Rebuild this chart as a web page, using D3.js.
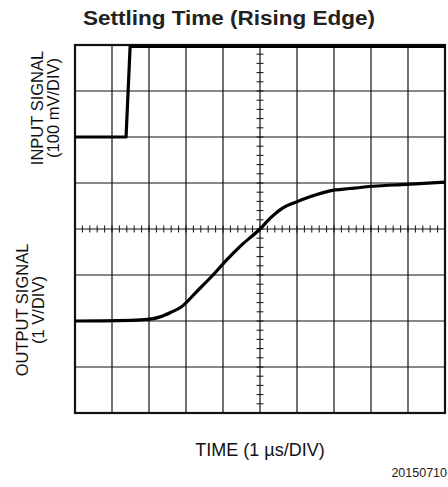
<html>
<script src="https://d3js.org/d3.v7.min.js"></script>
<body style="margin:0;background:#fff;">
<svg id="chart" width="448" height="487"></svg>
<script>
    // scope trace, in divisions (x: 0..10, y: -4..4)
    let inputX = [0, 1.38, 1.49, 10];
    let inputY = [2, 2, 3.97, 3.97];

    let outputX = [0, 1.67, 2.03, 2.30, 2.57, 2.88, 3.29, 3.73, 4.10, 4.50, 5.0, 5.27, 5.62, 5.99, 6.35, 6.89, 7.43, 8.05, 8.96, 10];
    let outputY = [-2.0, -1.98, -1.96, -1.91, -1.82, -1.69, -1.36, -1.0, -0.67, -0.35, 0, 0.23, 0.46, 0.59, 0.70, 0.83, 0.88, 0.93, 0.97, 1.02];

    let xDivs = d3.range(0, 11);
    let yDivs = d3.range(-4, 5);
    let xMinor = d3.range(0, 10.01, 0.2);
    let yMinor = d3.range(-4, 4.01, 0.2);

    let svg = d3.select('#chart');
    let font = '"Liberation Sans", Arial, Helvetica, sans-serif';

    let x = d3.scaleLinear().domain([0, 10]).range([75, 445]);
    let y = d3.scaleLinear().domain([-4, 4]).range([413, 45]);

    // grid lines
    svg.append('g').selectAll('line.v').data(xDivs).join('line')
        .attr('x1', d => x(d)).attr('x2', d => x(d))
        .attr('y1', y(-4)).attr('y2', y(4))
        .attr('stroke', '#111').attr('stroke-width', 1.2);
    svg.append('g').selectAll('line.h').data(yDivs).join('line')
        .attr('x1', x(0)).attr('x2', x(10))
        .attr('y1', d => y(d)).attr('y2', d => y(d))
        .attr('stroke', '#111').attr('stroke-width', 1.2);

    // minor ticks on the centre axes
    svg.append('g').selectAll('line').data(xMinor).join('line')
        .attr('x1', d => x(d)).attr('x2', d => x(d))
        .attr('y1', y(0) - 3.5).attr('y2', y(0) + 3.5)
        .attr('stroke', '#111').attr('stroke-width', 1);
    svg.append('g').selectAll('line').data(yMinor).join('line')
        .attr('x1', x(5) - 3.5).attr('x2', x(5) + 3.5)
        .attr('y1', d => y(d)).attr('y2', d => y(d))
        .attr('stroke', '#111').attr('stroke-width', 1);

    // frame
    svg.append('rect')
        .attr('x', x(0)).attr('y', y(4))
        .attr('width', x(10) - x(0)).attr('height', y(-4) - y(4))
        .attr('fill', 'none').attr('stroke', '#111').attr('stroke-width', 2.2);

    let line = d3.line().x(d => x(d[0])).y(d => y(d[1]));

    svg.append('path')
        .datum(d3.zip(inputX, inputY))
        .attr('d', line)
        .attr('fill', 'none').attr('stroke', '#000').attr('stroke-width', 3.2)
        .attr('stroke-linejoin', 'round');

    svg.append('path')
        .datum(d3.zip(outputX, outputY))
        .attr('d', d3.line().curve(d3.curveMonotoneX).x(d => x(d[0])).y(d => y(d[1])))
        .attr('fill', 'none').attr('stroke', '#000').attr('stroke-width', 3.2)
        .attr('stroke-linejoin', 'round');

    // texts
    svg.append('text')
        .text('Settling Time (Rising Edge)')
        .attr('x', 229).attr('y', 25)
        .attr('text-anchor', 'middle')
        .attr('textLength', 292).attr('lengthAdjust', 'spacingAndGlyphs')
        .style('font-family', font).style('font-weight', 'bold').style('font-size', '20px')
        .attr('fill', '#222');

    svg.append('text')
        .text('TIME (1 \u00b5s/DIV)')
        .attr('x', 260).attr('y', 456)
        .attr('text-anchor', 'middle')
        .style('font-family', font).style('font-size', '18px')
        .attr('fill', '#111');

    svg.append('text')
        .text('20150710')
        .attr('x', 447).attr('y', 477)
        .attr('text-anchor', 'end')
        .style('font-family', font).style('font-size', '12.5px')
        .attr('fill', '#222');

    let yLabels = [
        {t: 'INPUT SIGNAL', cx: 37, cy: 108},
        {t: '(100 mV/DIV)', cx: 53, cy: 108},
        {t: 'OUTPUT SIGNAL', cx: 22, cy: 310},
        {t: '(1 V/DIV)', cx: 38, cy: 310}
    ];
    svg.append('g').selectAll('text').data(yLabels).join('text')
        .text(d => d.t)
        .attr('transform', d => `translate(${d.cx + 6},${d.cy}) rotate(-90)`)
        .attr('text-anchor', 'middle')
        .style('font-family', font).style('font-size', '16.5px')
        .attr('fill', '#111');
</script>
</body>
</html>
